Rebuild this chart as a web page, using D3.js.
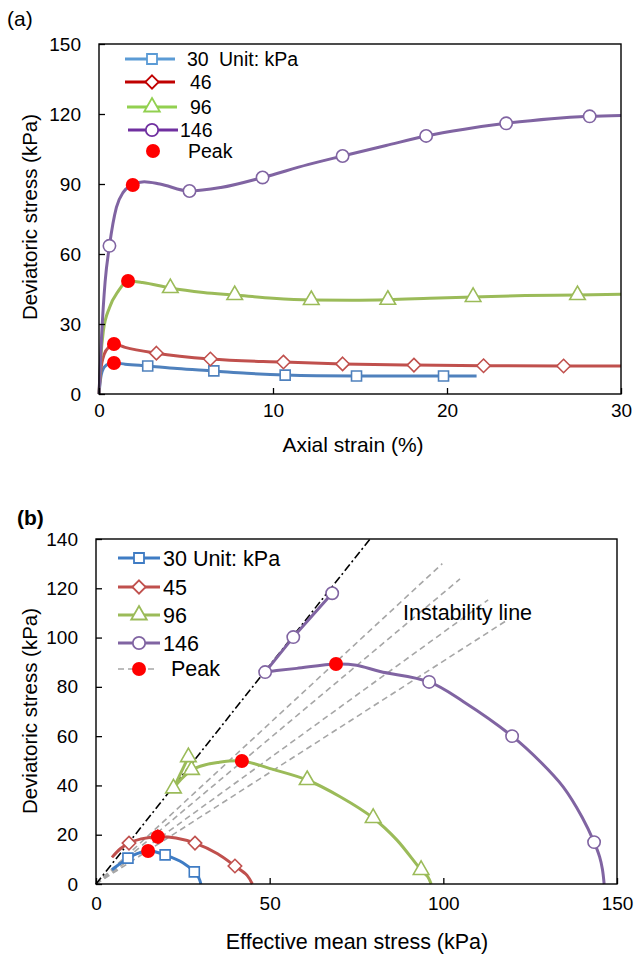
<!DOCTYPE html>
<html>
<head>
<meta charset="utf-8">
<script src="https://cdn.jsdelivr.net/npm/d3@7"></script>
<style>
  html, body { margin: 0; padding: 0; background: #fff; }
  svg { display: block; }
</style>
</head>
<body>
<svg id="fig" width="636" height="955"></svg>
<script>
// ---------- (a) deviatoric stress vs axial strain ----------
const seriesA = ["30", "46", "96", "146"];
const strainTicks = [0, 10, 20, 30];
const stressTicksA = [0, 30, 60, 90, 120, 150];

// curve points [axial strain %, deviatoric stress kPa]
const curveA30 = [[0,0],[0.1,7],[0.3,11.5],[0.6,13],[0.86,13.3],[1.5,12.8],[2.8,12],[4.5,10.9],[6.6,9.9],[8.5,8.9],[10.7,8.1],[12.5,7.8],[14.8,7.7],[17,7.7],[19.8,7.7],[21.7,7.7]];
const curveA46 = [[0,0],[0.1,10],[0.3,17],[0.6,20.3],[0.86,21.4],[1.5,20],[3.3,17.5],[6.4,15],[10.6,13.7],[14,12.9],[18.1,12.4],[22.1,12.1],[26.7,12],[30,12]];
const curveA96 = [[0,0],[0.1,15],[0.25,27],[0.6,37],[1.1,44],[1.67,48.4],[2.5,47.8],[4.1,45.4],[6,43.5],[7.8,42.4],[10,41],[12.2,40.3],[14.5,40.2],[16.6,40.4],[19,41],[21.5,41.6],[24.5,42.2],[27.5,42.4],[30,42.7]];
const curveA146 = [[0,0],[0.15,25],[0.35,48],[0.6,63.5],[1.0,80],[1.4,86.5],[1.94,89.6],[2.6,91],[3.5,90],[5.2,87],[7,88.5],[9.4,92.8],[12,98.3],[14,102],[16.5,106.5],[18.8,110.6],[21,113.5],[23.4,116],[26,118],[28.2,119],[30,119.4]];

// marker points
const markA30 = [[2.8,12],[6.6,9.9],[10.7,8.1],[14.8,7.7],[19.8,7.7]];
const markA46 = [[3.3,17.5],[6.4,15],[10.6,13.7],[14,12.9],[18.1,12.4],[22.1,12.1],[26.7,12]];
const markA96 = [[4.1,45.4],[7.8,42.4],[12.2,40.3],[16.6,40.4],[21.5,41.6],[27.5,42.4]];
const markA146 = [[0.6,63.5],[5.2,87],[9.4,92.8],[14,102],[18.8,110.6],[23.4,116],[28.2,119]];
const peaksA = [[0.86,13.3],[0.86,21.4],[1.67,48.4],[1.94,89.6]];

// ---------- (b) stress paths ----------
const seriesB = ["30", "45", "96", "146"];
const pTicks = [0, 50, 100, 150];
const qTicks = [0, 20, 40, 60, 80, 100, 120, 140];

// [effective mean stress kPa, deviatoric stress kPa]
const pathB30 = [[30.2,0],[29.6,2.5],[28.3,4.9],[25,8.6],[19.9,11.8],[17,13.1],[15,13.4],[12,12.4],[9.2,10.5],[7,8.3],[4.6,5.8]];
const pathB45 = [[45,0],[43.5,3.5],[40,7.3],[35,12.3],[28.5,16.6],[23,18.7],[17.8,19.2],[13,18.3],[9.5,16.6],[7,14.3],[4.6,10.8]];
const pathB96 = [[96.5,0],[95.5,3],[93.6,5.7],[86.6,17.9],[79.8,26.8],[70.3,35.4],[60.8,42.2],[51,46.5],[42,49.9],[35,49.3],[30,47.8],[27.5,46.3],[24.5,42.5],[22.3,38.8]];
const tailB96 = [[22.3,38.8],[26.6,51.5]];
const pathB146 = [[146.3,0],[145.8,6],[145,11],[143.4,17],[140,27],[134.5,39.4],[128,49.5],[119.8,60],[105.8,74],[95.9,82],[81.8,86.2],[75,88.8],[69.1,89.3],[57.8,87.5],[52,86.6],[48.7,86]];
const tailB146 = [[48.7,86],[56.8,100.2],[68,118]];

const markB30 = [[28.3,4.9],[19.9,11.8],[9.2,10.5]];
const markB45 = [[40,7.3],[28.5,16.6],[17.8,19.2],[9.5,16.6]];
const markB96 = [[93.6,5.7],[79.8,26.8],[60.8,42.2],[27.5,46.3],[26.6,51.5],[22.3,38.8]];
const markB146 = [[143.4,17],[119.8,60],[95.9,82],[48.7,86],[56.8,100.2],[68,118]];
const peaksB = [[15,13.4],[17.8,19.2],[42,49.9],[69.1,89.3]];

// critical state line and instability lines (from origin)
const cslEnd = [78.9, 140];
const instabilityEnds = [[99.7,130],[104.8,123.8],[112.9,115.3],[118.3,107]];

// ---------- drawing ----------
const FONT = "'Liberation Sans', Arial, Helvetica, sans-serif";
const svg = d3.select("#fig").style("font-family", FONT);

const colA = { c30: "#4F81BD", c46: "#C0504D", c96: "#9BBB59", c146: "#8064A2" };
const legColA = { c30: "#5B9BD5", c46: "#C00000", c96: "#92D050", c146: "#7030A0" };
const colB = { c30: "#3F7CC4", c45: "#C0504D", c96: "#9BBB59", c146: "#8064A2" };
const PEAK = "#FF0000";

const diamond = {
  draw(ctx, size) {
    const r = Math.sqrt(size / 2);
    ctx.moveTo(0, -r); ctx.lineTo(r, 0); ctx.lineTo(0, r); ctx.lineTo(-r, 0); ctx.closePath();
  }
};
const shapes = [
  d3.symbol(d3.symbolSquare, 100),
  d3.symbol(diamond, 90),
  d3.symbol(d3.symbolTriangle, 105),
  d3.symbol(d3.symbolCircle, 120)
];

function frame(g, x, y) {
  const [x0, x1] = x.range(), [y0, y1] = y.range();
  g.append("rect").attr("x", x0).attr("y", y1).attr("width", x1 - x0).attr("height", y0 - y1)
    .attr("fill", "none").attr("stroke", "#000").attr("stroke-width", 1.4);
}

function axes(g, x, y, xt, yt, xPad) {
  const ax = g.append("g").attr("transform", `translate(0,${y.range()[0]})`)
    .call(d3.axisBottom(x).tickValues(xt).tickSize(-6).tickPadding(xPad).tickFormat(d3.format("d")));
  const ay = g.append("g").attr("transform", `translate(${x.range()[0]},0)`)
    .call(d3.axisLeft(y).tickValues(yt).tickSize(-6).tickPadding(18).tickFormat(d3.format("d")));
  [ax, ay].forEach(a => {
    a.select(".domain").remove();
    a.selectAll("line").attr("stroke", "#000").attr("stroke-width", 1.3);
    a.selectAll("text").attr("font-family", FONT).attr("font-size", 19).attr("fill", "#000");
  });
}

function markers(g, pts, shape, color, x, y, sw) {
  g.selectAll(null).data(pts).join("path")
    .attr("d", shape)
    .attr("transform", d => `translate(${x(d[0])},${y(d[1])})`)
    .attr("fill", "#fff").attr("stroke", color).attr("stroke-width", sw || 1.6);
}
function peaks(g, pts, x, y) {
  g.selectAll(null).data(pts).join("circle")
    .attr("cx", d => x(d[0])).attr("cy", d => y(d[1])).attr("r", 7).attr("fill", PEAK);
}

// ===== panel (a) =====
const xA = d3.scaleLinear().domain([0, 30]).range([99, 621]);
const yA = d3.scaleLinear().domain([0, 150]).range([394, 44]);
const gA = svg.append("g");
const lineA = d3.line().x(d => xA(d[0])).y(d => yA(d[1])).curve(d3.curveMonotoneX);

const curvesA = [curveA30, curveA46, curveA96, curveA146];
const marksA = [markA30, markA46, markA96, markA146];
const colsA = [colA.c30, colA.c46, colA.c96, colA.c146];
curvesA.forEach((c, i) => {
  gA.append("path").datum(c).attr("d", lineA).attr("fill", "none")
    .attr("stroke", colsA[i]).attr("stroke-width", 3).attr("stroke-linejoin", "round");
});
marksA.forEach((m, i) => markers(gA, m, shapes[i], colsA[i], xA, yA));
peaks(gA, peaksA, xA, yA);
frame(gA, xA, yA);
axes(gA, xA, yA, strainTicks, stressTicksA, 10);

// legend (a)
const legA = gA.append("g").attr("font-size", 19.5);
const legRowsA = [
  { y: 59, x0: 125, x1: 175, mx: 152, tx: 187, c: legColA.c30, label: seriesA[0] },
  { y: 82, x0: 125, x1: 175, mx: 152, tx: 190, c: legColA.c46, label: seriesA[1] },
  { y: 107, x0: 127, x1: 177, mx: 152, tx: 190, c: legColA.c96, label: seriesA[2] },
  { y: 130, x0: 128, x1: 178, mx: 152, tx: 180, c: legColA.c146, label: seriesA[3] }
];
legRowsA.forEach((r, i) => {
  legA.append("line").attr("x1", r.x0).attr("x2", r.x1).attr("y1", r.y).attr("y2", r.y)
    .attr("stroke", r.c).attr("stroke-width", 3);
  legA.append("path").attr("d", shapes[i]).attr("transform", `translate(${r.mx},${r.y})`)
    .attr("fill", "#fff").attr("stroke", r.c).attr("stroke-width", 1.8);
  legA.append("text").attr("x", r.tx).attr("y", r.y + 7).text(r.label);
});
legA.append("text").attr("x", 219).attr("y", 66).text("Unit: kPa");
legA.append("circle").attr("cx", 153).attr("cy", 151).attr("r", 7).attr("fill", PEAK);
legA.append("text").attr("x", 188).attr("y", 158).text("Peak");

svg.append("text").attr("x", 7).attr("y", 26).attr("font-size", 21).text("(a)");
svg.append("text").attr("transform", "translate(37,217) rotate(-90)").attr("text-anchor", "middle")
  .attr("font-size", 20.5).text("Deviatoric stress (kPa)");
svg.append("text").attr("x", 353).attr("y", 452).attr("text-anchor", "middle")
  .attr("font-size", 21).text("Axial strain (%)");

// ===== panel (b) =====
const xB = d3.scaleLinear().domain([0, 150]).range([96, 617]);
const yB = d3.scaleLinear().domain([0, 140]).range([884, 539]);
const gB = svg.append("g");
const lineB = d3.line().x(d => xB(d[0])).y(d => yB(d[1]));

instabilityEnds.forEach(e => {
  gB.append("path").datum([[0, 0], e]).attr("d", lineB).attr("fill", "none")
    .attr("stroke", "#A6A6A6").attr("stroke-width", 1.6).attr("stroke-dasharray", "6,4");
});
gB.append("path").datum([[0, 0], cslEnd]).attr("d", lineB).attr("fill", "none")
  .attr("stroke", "#000").attr("stroke-width", 1.6).attr("stroke-dasharray", "8,3,2,3");

const pathsB = [pathB30, pathB45, pathB96, pathB146];
const tailsB = [null, null, tailB96, tailB146];
const marksB = [markB30, markB45, markB96, markB146];
const colsB = [colB.c30, colB.c45, colB.c96, colB.c146];
const smooth = d3.line().x(d => xB(d[0])).y(d => yB(d[1])).curve(d3.curveCatmullRom.alpha(0.5));
pathsB.forEach((p, i) => {
  gB.append("path").datum(p).attr("d", smooth).attr("fill", "none")
    .attr("stroke", colsB[i]).attr("stroke-width", 3).attr("stroke-linejoin", "round");
  if (tailsB[i]) {
    gB.append("path").datum(tailsB[i]).attr("d", lineB).attr("fill", "none")
      .attr("stroke", colsB[i]).attr("stroke-width", 3).attr("stroke-linejoin", "round");
  }
});
marksB.forEach((m, i) => markers(gB, m, shapes[i], colsB[i], xB, yB));
peaks(gB, peaksB, xB, yB);
frame(gB, xB, yB);
axes(gB, xB, yB, pTicks, qTicks, 13);

gB.append("text").attr("x", 403).attr("y", 620).attr("font-size", 21.5).text("Instability line");

// legend (b)
const legB = gB.append("g").attr("font-size", 21.5);
const rowsB = [558, 587, 615, 643];
rowsB.forEach((ry, i) => {
  legB.append("line").attr("x1", 118).attr("x2", 160).attr("y1", ry).attr("y2", ry)
    .attr("stroke", colsB[i]).attr("stroke-width", 3);
  legB.append("path").attr("d", shapes[i]).attr("transform", `translate(139,${ry})`)
    .attr("fill", "#fff").attr("stroke", colsB[i]).attr("stroke-width", 1.8);
  legB.append("text").attr("x", 163).attr("y", ry + 7.5).text(seriesB[i] + (i === 0 ? " Unit: kPa" : ""));
});
legB.append("line").attr("x1", 118).attr("x2", 157).attr("y1", 669).attr("y2", 669)
  .attr("stroke", "#A6A6A6").attr("stroke-width", 1.6).attr("stroke-dasharray", "6,4");
legB.append("circle").attr("cx", 139).attr("cy", 669).attr("r", 7).attr("fill", PEAK);
legB.append("text").attr("x", 171).attr("y", 676).text("Peak");

svg.append("text").attr("x", 17).attr("y", 525).attr("font-size", 21).attr("font-weight", "bold").text("(b)");
svg.append("text").attr("transform", "translate(37,711) rotate(-90)").attr("text-anchor", "middle")
  .attr("font-size", 20.5).text("Deviatoric stress (kPa)");
svg.append("text").attr("x", 357).attr("y", 949).attr("text-anchor", "middle")
  .attr("font-size", 21.5).text("Effective mean stress (kPa)");
</script>
</body>
</html>
